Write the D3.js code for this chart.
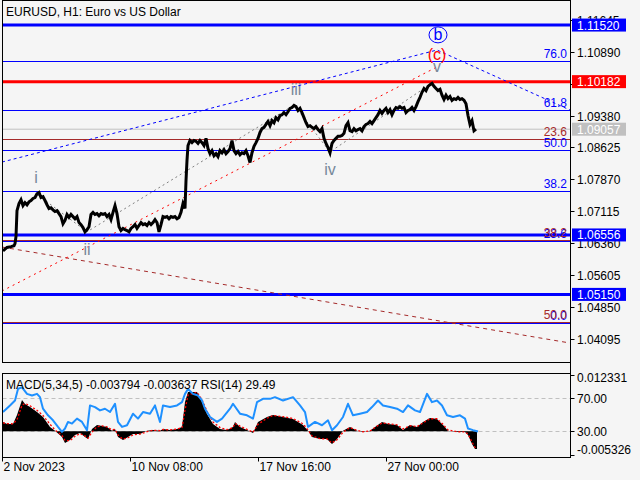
<!DOCTYPE html>
<html><head><meta charset="utf-8">
<script src="https://cdn.jsdelivr.net/npm/d3@7"></script>
<style>
body{margin:0;background:#f5f5f5}
svg{display:block}
text{font-family:"Liberation Sans",Arial,sans-serif}
</style>
</head><body>
<svg id="c" width="640" height="480"></svg>
<script>
// ---------- DATA ----------
const chartTitle = "EURUSD, H1:  Euro vs US Dollar";
const indicatorTitle = "MACD(5,34,5) -0.003794 -0.003637 RSI(14) 29.49";

// [bar index, close]
const priceSeries = [[1,1.0618],[5,1.0626],[9,1.0628],[12,1.0630],[13,1.0635],[14,1.0652],[15,1.0713],[17,1.0730],[19,1.0739],[21,1.0725],[23,1.0732],[25,1.0727],[27,1.0734],[29,1.0737],[31,1.0742],[33,1.0744],[35,1.0753],[37,1.0756],[39,1.0744],[41,1.0746],[43,1.0737],[45,1.0727],[47,1.0718],[49,1.0720],[51,1.0715],[53,1.0711],[55,1.0713],[57,1.0706],[59,1.0699],[61,1.0682],[63,1.0690],[65,1.0704],[67,1.0697],[69,1.0704],[71,1.0699],[73,1.0694],[75,1.0699],[77,1.0685],[79,1.0680],[81,1.0673],[83,1.0663],[85,1.0668],[87,1.0675],[89,1.0704],[91,1.0709],[93,1.0704],[95,1.0706],[97,1.0701],[99,1.0706],[101,1.0704],[103,1.0706],[105,1.0699],[107,1.0704],[109,1.0692],[111,1.0709],[113,1.0725],[115,1.0706],[117,1.0675],[119,1.0666],[121,1.0671],[123,1.0668],[125,1.0666],[127,1.0663],[129,1.0671],[131,1.0675],[133,1.0680],[135,1.0671],[137,1.0678],[139,1.0685],[141,1.0680],[143,1.0682],[145,1.0678],[147,1.0685],[149,1.0680],[151,1.0685],[153,1.0692],[155,1.0685],[157,1.0663],[159,1.0680],[161,1.0699],[163,1.0697],[165,1.0699],[167,1.0694],[169,1.0699],[171,1.0697],[173,1.0699],[175,1.0694],[177,1.0697],[179,1.0709],[181,1.0730],[183,1.0718],[184,1.0784],[185,1.0832],[186,1.0867],[188,1.0879],[190,1.0874],[192,1.0879],[194,1.0877],[196,1.0872],[198,1.0879],[200,1.0874],[202,1.0867],[204,1.0884],[206,1.0860],[208,1.0848],[210,1.0855],[212,1.0843],[214,1.0848],[216,1.0841],[218,1.0855],[220,1.0850],[222,1.0857],[224,1.0848],[226,1.0853],[228,1.0860],[230,1.0879],[232,1.0855],[234,1.0848],[236,1.0853],[238,1.0845],[240,1.0850],[242,1.0848],[244,1.0855],[246,1.0843],[248,1.0827],[250,1.0850],[252,1.0865],[254,1.0874],[256,1.0884],[258,1.0898],[260,1.0907],[262,1.0910],[264,1.0917],[266,1.0924],[268,1.0914],[270,1.0926],[272,1.0921],[274,1.0933],[276,1.0928],[278,1.0938],[280,1.0940],[282,1.0945],[284,1.0940],[286,1.0947],[288,1.0955],[290,1.0957],[292,1.0962],[294,1.0959],[296,1.0950],[298,1.0955],[300,1.0945],[302,1.0933],[304,1.0921],[306,1.0912],[308,1.0914],[310,1.0910],[312,1.0907],[314,1.0912],[316,1.0905],[318,1.0900],[320,1.0907],[322,1.0884],[324,1.0872],[326,1.0862],[328,1.0850],[330,1.0872],[332,1.0879],[334,1.0884],[336,1.0889],[338,1.0889],[340,1.0891],[342,1.0896],[344,1.0914],[346,1.0921],[348,1.0902],[350,1.0900],[352,1.0907],[354,1.0902],[356,1.0905],[358,1.0907],[360,1.0902],[362,1.0912],[364,1.0917],[366,1.0919],[368,1.0924],[370,1.0919],[372,1.0926],[374,1.0933],[376,1.0940],[378,1.0950],[380,1.0943],[382,1.0950],[384,1.0955],[386,1.0945],[388,1.0952],[390,1.0940],[392,1.0950],[394,1.0957],[396,1.0955],[398,1.0959],[400,1.0955],[402,1.0957],[404,1.0945],[406,1.0950],[408,1.0952],[410,1.0957],[412,1.0950],[414,1.0959],[416,1.0971],[418,1.0981],[420,1.0993],[422,1.1002],[424,1.0997],[426,1.1007],[428,1.1011],[430,1.1014],[432,1.1007],[434,1.1002],[436,1.0997],[438,1.1000],[440,1.0986],[442,1.0976],[444,1.0986],[446,1.0978],[448,1.0983],[450,1.0974],[452,1.0978],[454,1.0976],[456,1.0981],[458,1.0976],[460,1.0978],[462,1.0974],[464,1.0966],[466,1.0938],[468,1.0917],[470,1.0926],[472,1.0902],[474,1.0906]];

const priceTicks = [1.04095,1.04850,1.05605,1.06360,1.07115,1.07870,1.08625,1.09380,1.10135,1.10890,1.11645];

// marked price levels with boxes on the axis
const markedPrices = [1.11520, 1.10182, 1.09057, 1.06556, 1.05150];
const markedKinds  = ["blue", "red", "grey", "blue", "blue"];

// Fibonacci level sets
const blueFibPrices = [1.1067, 1.0951, 1.0856, 1.0759, 1.0641, 1.0447];
const blueFibLabels = ["76.0", "61.8", "50.0", "38.2", "23.6", "0.0"];
const brownFibPrices = [1.0882, 1.0643, 1.0450];
const brownFibLabels = ["23.6", "38.2", "50.0"];

// trend lines
const blueTrendBars = [0, 435, 568];
const blueTrendPrices = [1.0828, 1.1093, 1.0951];
const redTrendBars = [0, 435];
const redTrendPrices = [1.0523, 1.1053];
const brownTrendBars = [0, 568];
const brownTrendPrices = [1.0627, 1.0400];

// wave pivots (grey dotted)
const waveBars = [36, 85, 292, 328, 430];
const wavePrices = [1.0750, 1.0663, 1.0963, 1.0852, 1.1015];

// wave labels
const waveLabels = ["i", "ii", "iii", "iv", "v", "(c)"];
const waveLabelBars = [34, 85, 294, 328, 435, 435];
const waveLabelPrices = [1.0779, 1.0608, 1.0987, 1.0798, 1.1041, 1.1070];
const circledLabel = "b";
const circledBar = 436;
const circledPrice = 1.1117;

// time axis
const dateBars = [0, 128, 256, 384];
const dateLabels = ["2 Nov 2023", "10 Nov 08:00", "17 Nov 16:00", "27 Nov 00:00"];

// MACD histogram & signal
const macdBars = [1,5,11,15,20,23,28,35,41,48,53,60,63,68,73,78,83,86,90,95,100,105,110,113,116,121,126,131,138,145,151,158,161,168,175,180,183,186,195,200,205,211,218,225,231,233,238,245,251,256,265,271,281,291,301,306,310,318,325,330,335,341,348,355,361,368,373,380,386,395,401,408,415,421,428,435,441,446,455,463,466,470,473,475];
const macdValues = [0.00200,0.00157,0.00157,0.00351,0.00674,0.00588,0.00523,0.00416,0.00308,0.00093,0.0001,-0.00123,-0.00252,-0.00187,-0.00080,-0.00037,-0.00123,-0.00166,0.00050,0.00136,0.00114,0.00093,0.0001,0.00050,-0.00123,-0.00187,-0.00123,-0.00058,-0.00058,0.0001,0.00028,0.0001,0.00050,0.00028,0.00050,0.00093,0.00631,0.00846,0.00846,0.00631,0.00372,0.00157,0.00050,0.00028,0.00093,0.00200,0.00093,0.00028,-0.00037,0.00200,0.00308,0.00351,0.00308,0.00265,0.00136,0.0001,-0.00123,-0.00166,-0.00166,-0.00273,-0.00166,0.0001,0.00093,0.0001,-0.00015,0.0001,0.00093,0.00200,0.00157,0.00136,0.00028,0.00136,0.00093,0.00200,0.00286,0.00265,0.00136,0.0001,-0.00015,-0.00015,-0.00080,-0.00273,-0.00381,-0.003794];
const signalValues = [0.00180,0.00165,0.00160,0.00250,0.00560,0.00600,0.00550,0.00450,0.00340,0.00150,0.00030,-0.00090,-0.00200,-0.00200,-0.00110,-0.00050,-0.00100,-0.00150,-0.00020,0.00100,0.00115,0.00095,0.00030,0.00040,-0.00080,-0.00170,-0.00140,-0.00080,-0.00060,-0.00010,0.00020,0.00015,0.00040,0.00030,0.00045,0.00080,0.00450,0.00780,0.00840,0.00680,0.00430,0.00200,0.00080,0.00035,0.00080,0.00170,0.00110,0.00040,-0.00020,0.00150,0.00280,0.00340,0.00315,0.00275,0.00160,0.00030,-0.00100,-0.00160,-0.00165,-0.00250,-0.00185,-0.00020,0.00080,0.00020,-0.00010,0.00005,0.00080,0.00180,0.00165,0.00140,0.00050,0.00120,0.00100,0.00180,0.00270,0.00270,0.00150,0.00030,-0.00010,-0.00015,-0.00060,-0.00230,-0.00350,-0.003637];
const macdAxisMax = 0.012331, macdAxisMin = -0.005326;

// RSI
const rsiBars = [1,8,13,16,20,25,30,35,38,41,46,51,56,60,63,66,70,75,80,85,88,93,98,103,108,113,116,120,125,131,136,141,148,153,158,161,168,175,180,183,186,191,196,200,203,208,215,220,228,231,238,245,251,255,261,268,273,281,291,298,303,306,313,320,326,330,335,341,346,351,358,365,370,376,381,388,395,401,406,413,418,425,430,435,440,445,451,458,463,466,471,476];
const rsiValues = [53,61,67,81,83,75,73,75,71,57,49,43,35,29,33,41,39,45,41,31,61,59,55,57,53,63,41,35,37,51,45,53,51,61,41,61,59,61,65,75,81,75,73,67,57,47,41,45,57,63,51,49,45,65,69,69,71,67,71,61,53,35,41,37,43,31,37,47,63,49,51,53,59,67,61,59,57,53,61,55,53,75,65,67,61,49,47,49,45,33,31,29.49];
const rsiLevels = [70, 30];

// ---------- DRAW ----------
const svg = d3.select("#c");
const L = 2.5, R = 570.5, mainTop = 0.5, mainBot = 362.5, subTop = 373.5, subBot = 457.5;

svg.append("rect").attr("width",640).attr("height",480).attr("fill","#f5f5f5");

const x = d3.scaleLinear().domain([0, 568]).range([2, 570]);
const y = d3.scaleLinear().domain([1.04095, 1.10890]).range([339, 51.7]);
const macdY = d3.scaleLinear().domain([macdAxisMin, macdAxisMax]).range([456, 374]);
const rsiY = d3.scaleLinear().domain([0, 100]).range([455.75, 373.25]);

const defs = svg.append("defs");
defs.append("clipPath").attr("id","mainClip").append("rect")
  .attr("x",L).attr("y",mainTop).attr("width",R-L).attr("height",mainBot-mainTop);
defs.append("clipPath").attr("id","subClip").append("rect")
  .attr("x",L).attr("y",subTop).attr("width",R-L).attr("height",subBot-subTop);

const main = svg.append("g").attr("clip-path","url(#mainClip)");

// fib levels
const hline = (g, p, color, w) => g.append("line")
  .attr("x1",L).attr("x2",R).attr("y1",Math.round(y(p))+0.5).attr("y2",Math.round(y(p))+0.5)
  .attr("stroke",color).attr("stroke-width",w);
brownFibPrices.forEach(p => hline(main, p, "#a52a2a", 1));
blueFibPrices.forEach(p => hline(main, p, "#0000ff", 1));

// marked levels
const kindColor = {blue:"#0000ff", red:"#ff0000", grey:"#c0c0c0"};
markedPrices.forEach((p,i) => {
  const w = markedKinds[i] === "grey" ? 1 : 3;
  main.append("line").attr("x1",L).attr("x2",R)
    .attr("y1",y(p)).attr("y2",y(p))
    .attr("stroke",kindColor[markedKinds[i]]).attr("stroke-width",w);
});

// fib labels
blueFibLabels.forEach((t,i) => main.append("text")
  .attr("x",567).attr("y",Math.round(y(blueFibPrices[i]))-3)
  .attr("text-anchor","end").attr("font-size",12).attr("fill","#0000ff").text(t));
brownFibLabels.forEach((t,i) => main.append("text")
  .attr("x",567).attr("y",Math.round(y(brownFibPrices[i]))-3)
  .attr("text-anchor","end").attr("font-size",12).attr("fill","#a52a2a").text(t));

// trend lines
const seg = (bars, prices) => d3.line()(bars.map((b,i)=>[x(b), y(prices[i])]));
main.append("path").attr("d",seg(brownTrendBars,brownTrendPrices))
  .attr("fill","none").attr("stroke","#a52a2a").attr("stroke-width",1).attr("stroke-dasharray","4,4");
main.append("path").attr("d",seg(redTrendBars,redTrendPrices))
  .attr("fill","none").attr("stroke","#ff0000").attr("stroke-width",1).attr("stroke-dasharray","2,4");
main.append("path").attr("d",seg(blueTrendBars,blueTrendPrices))
  .attr("fill","none").attr("stroke","#0000ff").attr("stroke-width",1).attr("stroke-dasharray","3,3");
main.append("path").attr("d",seg(waveBars,wavePrices))
  .attr("fill","none").attr("stroke","#808080").attr("stroke-width",1).attr("stroke-dasharray","2,3");

// price
main.append("path")
  .attr("d", d3.line().x(d=>x(d[0])).y(d=>y(d[1]))(priceSeries))
  .attr("fill","none").attr("stroke","#000").attr("stroke-width",3).attr("stroke-linejoin","miter");

// wave labels
waveLabels.forEach((t,i) => main.append("text")
  .attr("x", x(waveLabelBars[i])).attr("y", y(waveLabelPrices[i]))
  .attr("text-anchor","middle").attr("font-size",16)
  .attr("fill", t === "(c)" ? "#ff0000" : "#778899").text(t));
main.append("ellipse").attr("cx", x(circledBar)).attr("cy", y(circledPrice)-5)
  .attr("rx",9).attr("ry",8).attr("fill","none").attr("stroke","#0000ff").attr("stroke-width",1);
main.append("text").attr("x", x(circledBar)).attr("y", y(circledPrice))
  .attr("text-anchor","middle").attr("font-size",16).attr("fill","#0000ff").text(circledLabel);

// title
svg.append("text").attr("x",6).attr("y",16).attr("font-size",12).attr("fill","#000").text(chartTitle);

// frames
svg.append("rect").attr("x",L).attr("y",mainTop).attr("width",R-L).attr("height",mainBot-mainTop)
  .attr("fill","none").attr("stroke","#000");
svg.append("line").attr("x1",R).attr("x2",R).attr("y1",0).attr("y2",subBot).attr("stroke","#000");

// price axis
priceTicks.forEach(p => {
  const yy = Math.round(y(p)) + 0.5;
  svg.append("line").attr("x1",R).attr("x2",R+4).attr("y1",yy).attr("y2",yy).attr("stroke","#000");
  const hidden = markedPrices.some(m => Math.abs(y(m) - y(p)) < 4);
  if (!hidden) svg.append("text").attr("x",577).attr("y",yy+4.5).attr("font-size",12)
    .attr("fill","#000").text(p.toFixed(5));
});
markedPrices.forEach((p,i) => {
  const yy = y(p);
  svg.append("rect").attr("x",572).attr("y",yy-6.5).attr("width",54).attr("height",13)
    .attr("fill",kindColor[markedKinds[i]]);
  svg.append("text").attr("x",577).attr("y",yy+4.5).attr("font-size",12)
    .attr("fill","#fff").text(p.toFixed(5));
});

// ---- sub window ----
const sub = svg.append("g").attr("clip-path","url(#subClip)");
rsiLevels.forEach(v => sub.append("line").attr("x1",L).attr("x2",R)
  .attr("y1",Math.round(rsiY(v))+0.5).attr("y2",Math.round(rsiY(v))+0.5)
  .attr("stroke","#c0c0c0").attr("stroke-dasharray","4,3"));

const macdPts = macdBars.map((b,i)=>({b, v:macdValues[i], s:signalValues[i]}));
sub.append("path").attr("d", d3.area().x(d=>x(d.b)).y0(macdY(0)).y1(d=>macdY(d.v))(macdPts))
  .attr("fill","#000");
sub.append("path").attr("d", d3.line().x(d=>x(d.b)).y(d=>macdY(d.s))(macdPts))
  .attr("fill","none").attr("stroke","#ff0000").attr("stroke-width",1.3).attr("stroke-dasharray","2,2");
sub.append("path").attr("d", d3.line().x((b)=>x(b)).y((b,i)=>rsiY(rsiValues[i]))(rsiBars))
  .attr("fill","none").attr("stroke","#1e90ff").attr("stroke-width",2).attr("stroke-linejoin","round");

svg.append("text").attr("x",6).attr("y",389).attr("font-size",12).attr("fill","#000").text(indicatorTitle);

svg.append("rect").attr("x",L).attr("y",subTop).attr("width",R-L).attr("height",subBot-subTop)
  .attr("fill","none").attr("stroke","#000");

// sub axis
[[macdY(macdAxisMax)+1, macdAxisMax.toFixed(6), 6],
 [rsiY(70), rsiLevels[0].toFixed(2), 4.5],
 [rsiY(30), rsiLevels[1].toFixed(2), 4.5],
 [macdY(macdAxisMin)-1, macdAxisMin.toFixed(6), -1.5]].forEach(([yy, t, off]) => {
  const ry = Math.round(yy)+0.5;
  svg.append("line").attr("x1",R).attr("x2",R+4).attr("y1",ry).attr("y2",ry).attr("stroke","#000");
  svg.append("text").attr("x",577).attr("y",ry+off).attr("font-size",12).attr("fill","#000").text(t);
});

// time axis
dateBars.forEach((b,i) => {
  const xx = Math.round(x(b)) + 0.5;
  svg.append("line").attr("x1",xx).attr("x2",xx).attr("y1",subBot).attr("y2",subBot+4).attr("stroke","#000");
  svg.append("text").attr("x",xx+1).attr("y",471).attr("font-size",12).attr("fill","#000").text(dateLabels[i]);
});
</script>
</body></html>
